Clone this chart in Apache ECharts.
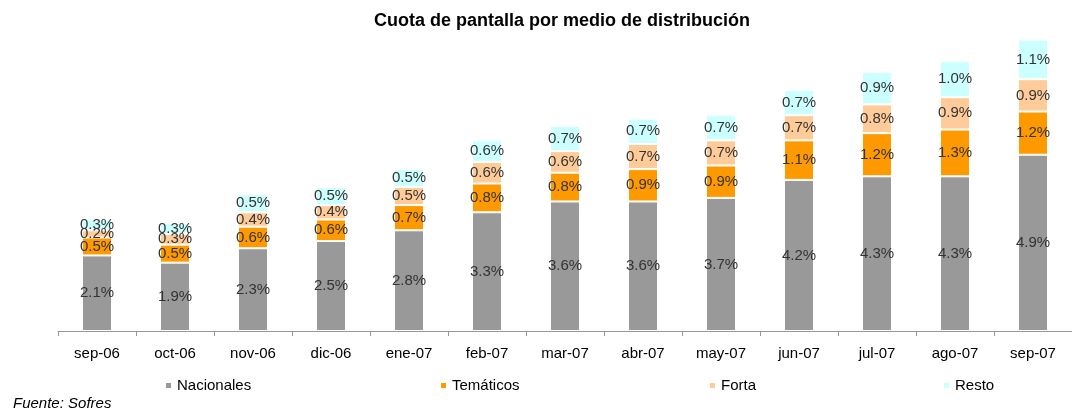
<!DOCTYPE html>
<html>
<head>
<meta charset="utf-8">
<script src="https://cdn.jsdelivr.net/npm/echarts@6/dist/echarts.min.js"></script>
<style>
  html, body { margin: 0; padding: 0; background: #fff; }
  #chart { width: 1072px; height: 413px; }
</style>
</head>
<body>
<div id="chart"></div>
<script>
const months = ['sep-06', 'oct-06', 'nov-06', 'dic-06', 'ene-07', 'feb-07', 'mar-07', 'abr-07', 'may-07', 'jun-07', 'jul-07', 'ago-07', 'sep-07']
const nacionales = [2.1, 1.9, 2.3, 2.5, 2.8, 3.3, 3.6, 3.6, 3.7, 4.2, 4.3, 4.3, 4.9]
const tematicos = [0.5, 0.5, 0.6, 0.6, 0.7, 0.8, 0.8, 0.9, 0.9, 1.1, 1.2, 1.3, 1.2]
const forta = [0.2, 0.3, 0.4, 0.4, 0.5, 0.6, 0.6, 0.7, 0.7, 0.7, 0.8, 0.9, 0.9]
const resto = [0.3, 0.3, 0.5, 0.5, 0.5, 0.6, 0.7, 0.7, 0.7, 0.7, 0.9, 1.0, 1.1]

const font = 'Liberation Sans, Arial, sans-serif'

function barSeries(name, data, color) {
  return {
    name: name,
    type: 'bar',
    stack: 'total',
    barWidth: 30,
    data: data,
    itemStyle: { color: color, borderColor: '#fff', borderWidth: 1 },
    label: {
      show: true,
      position: 'inside',
      color: '#333',
      fontFamily: font,
      fontSize: 15,
      formatter: p => p.value.toFixed(1) + '%'
    }
  }
}

function legendAt(name, left) {
  return {
    data: [name],
    left: left,
    top: 373,
    itemWidth: 7,
    itemHeight: 7,
    itemGap: 4,
    icon: 'rect',
    textStyle: { fontFamily: font, fontSize: 15, color: '#000' }
  }
}

const chart = echarts.init(document.getElementById('chart'))
const option = {
  animation: false,
  title: {
    text: 'Cuota de pantalla por medio de distribución',
    left: 557,
    textAlign: 'center',
    top: 7,
    textStyle: { fontFamily: font, fontSize: 18, fontWeight: 'bold', color: '#000' }
  },
  legend: [
    legendAt('Nacionales', 159),
    legendAt('Temáticos', 434),
    legendAt('Forta', 703),
    legendAt('Resto', 937)
  ],
  grid: { left: 58, top: 36, width: 1022, height: 295 },
  xAxis: {
    type: 'category',
    data: months,
    axisLine: { lineStyle: { color: '#999', width: 1 } },
    axisTick: { show: true, length: 5, lineStyle: { color: '#999' } },
    axisLabel: { color: '#000', fontFamily: font, fontSize: 15, margin: 15 }
  },
  yAxis: {
    type: 'value',
    min: 0,
    max: 8.2,
    show: false,
    splitLine: { show: false }
  },
  series: [
    barSeries('Nacionales', nacionales, '#999999'),
    barSeries('Temáticos', tematicos, '#FF9900'),
    barSeries('Forta', forta, '#FFCC99'),
    barSeries('Resto', resto, '#CCFFFF')
  ],
  graphic: [{
    type: 'text',
    left: 13,
    top: 396,
    style: { text: 'Fuente: Sofres', font: 'italic 15px Liberation Sans, Arial, sans-serif', fill: '#000' }
  }]
}
chart.setOption(option)
</script>
</body>
</html>
